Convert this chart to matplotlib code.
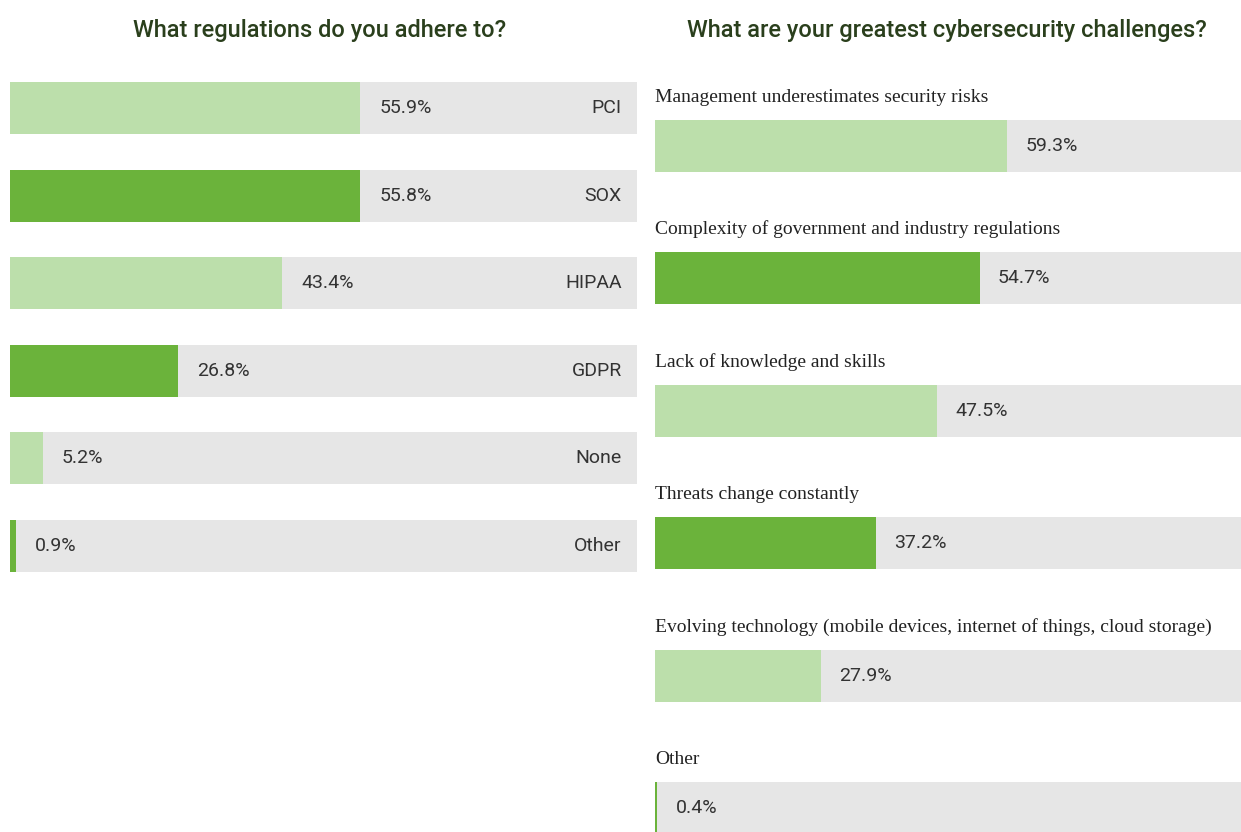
import matplotlib
matplotlib.use("Agg")
import matplotlib.pyplot as plt
from matplotlib import font_manager

reg_labels = ["PCI", "SOX", "HIPAA", "GDPR", "None", "Other"]
reg_values = [55.9, 55.8, 43.4, 26.8, 5.2, 0.9]

chal_labels = [
    "Management underestimates security risks",
    "Complexity of government and industry regulations",
    "Lack of knowledge and skills",
    "Threats change constantly",
    "Evolving technology (mobile devices, internet of things, cloud storage)",
    "Other",
]
chal_values = [59.3, 54.7, 47.5, 37.2, 27.9, 0.4]

LIGHT = "#bcdfab"
DARK = "#6bb33b"
GRAY = "#e6e6e6"
TITLE = "#2a3f1c"
TEXT = "#333333"

names = {f.name for f in font_manager.fontManager.ttflist}
def pick(cands):
    return [c for c in cands if c in names] + ["DejaVu Sans"]
SANS_N = pick(["Liberation Sans Narrow", "DejaVu Sans Condensed", "Roboto"])
SERIF_N = pick(["DejaVu Serif Condensed", "Liberation Serif"])

W, H = 1241, 832
fig = plt.figure(figsize=(W / 100, H / 100), dpi=100)
fig.patch.set_facecolor("white")

# Left panel
axL = fig.add_axes([10 / W, 1 - 589.8 / H, 627 / W, 525.6 / H])
n = len(reg_values)
ys = list(range(n))
hL = 0.594
colors = [LIGHT if i % 2 == 0 else DARK for i in range(n)]
axL.barh(ys, [100] * n, height=hL, color=GRAY, zorder=1)
axL.barh(ys, reg_values, height=hL, color=colors, zorder=2)
for i, v in enumerate(reg_values):
    axL.annotate(f"{v}%", xy=(v, i), xytext=(14, 0), textcoords="offset points",
                 va="center", ha="left", fontsize=14, color=TEXT, family=SANS_N)
    axL.annotate(reg_labels[i], xy=(100, i), xytext=(-11, 0), textcoords="offset points",
                 va="center", ha="right", fontsize=14, color=TEXT, family=SANS_N)
axL.set_xlim(0, 100)
axL.set_ylim(n - 0.5, -0.5)
axL.axis("off")

# Right panel
axR = fig.add_axes([655 / W, 1 - 874.2 / H, 594 / W, 794.4 / H])
m = len(chal_values)
ys2 = list(range(m))
hR = 0.393
colors2 = [LIGHT if i % 2 == 0 else DARK for i in range(m)]
axR.barh(ys2, [100] * m, height=hR, color=GRAY, zorder=1)
axR.barh(ys2, chal_values, height=hR, color=colors2, zorder=2)
for i, v in enumerate(chal_values):
    axR.annotate(f"{v}%", xy=(v, i), xytext=(13, 0), textcoords="offset points",
                 va="center", ha="left", fontsize=14, color=TEXT, family=SANS_N)
    axR.annotate(chal_labels[i], xy=(0, i - hR / 2), xytext=(0, 13), textcoords="offset points",
                 va="baseline", ha="left", fontsize=14, color="#222222", family=SERIF_N)
axR.set_xlim(0, 100)
axR.set_ylim(m - 0.5, -0.5)
axR.axis("off")

fig.text(320 / W, 1 - 30 / H, "What regulations do you adhere to?", ha="center", va="center",
         fontsize=17, color=TITLE, family=SANS_N, fontweight="medium")
fig.text(947 / W, 1 - 30 / H, "What are your greatest cybersecurity challenges?", ha="center",
         va="center", fontsize=17, color=TITLE, family=SANS_N, fontweight="medium")

fig.savefig("out.png", dpi=100, facecolor="white")
